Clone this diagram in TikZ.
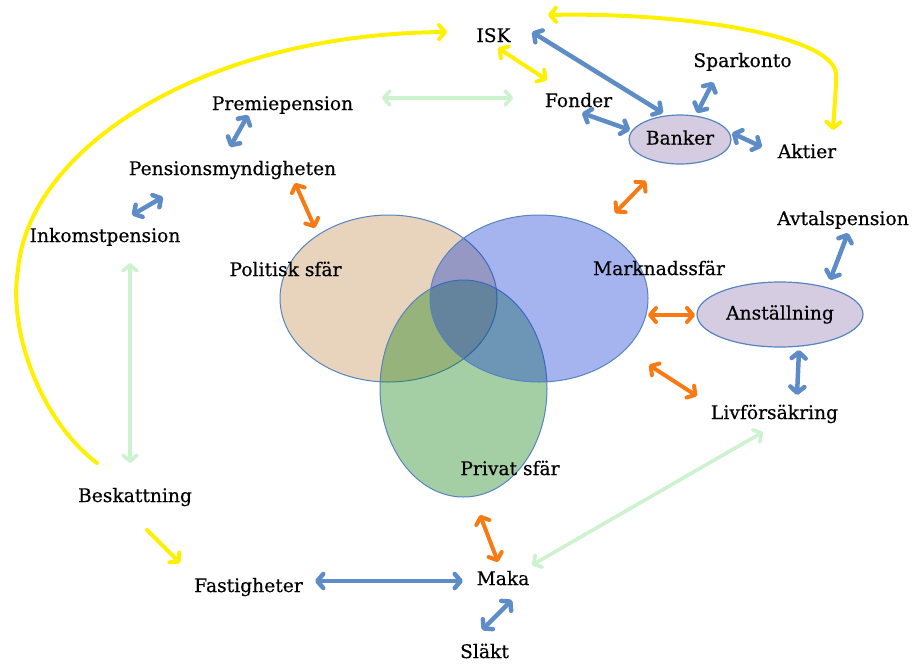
\documentclass[tikz,border=0pt]{standalone}
\usepackage{fontspec}
\setmainfont{DejaVu Serif}[FakeBold=0.4]
\usetikzlibrary{arrows.meta,shapes.geometric}
\definecolor{ablue}{RGB}{93,140,198}
\definecolor{aorange}{RGB}{247,122,20}
\definecolor{ayellow}{RGB}{255,240,0}
\definecolor{agreen}{RGB}{204,242,206}
\definecolor{estroke}{RGB}{85,132,192}
\definecolor{lav}{RGB}{214,204,226}
\definecolor{polc}{RGB}{194,139,79}
\definecolor{markc}{RGB}{18,55,210}
\definecolor{privc}{RGB}{15,129,18}
\begin{document}
\begin{tikzpicture}[x=1pt,y=-1pt,
  lbl/.style={inner sep=0pt, text height=14pt, text depth=4pt, font=\fontsize{18.7}{22}\selectfont},
  oval/.style={ellipse, draw=estroke, line width=1.2pt, fill=lav, inner sep=0pt,
    text height=14pt, text depth=4pt, font=\fontsize{18.7}{22}\selectfont},
  sphere/.style={ellipse, draw=estroke, line width=1pt, fill opacity=0.38, inner sep=0pt},
  >={Straight Barb[length=6pt,width=14pt,round]},
  bl/.style={draw=ablue, line width=4.5pt, line cap=round, <->},
  og/.style={draw=aorange, line width=4pt, line cap=round, <->},
  yl/.style={draw=ayellow, line width=4pt, line cap=round},
  gr/.style={draw=agreen, line width=3.6pt, line cap=round, <->}
]
\path[use as bounding box] (0,0) rectangle (917,665);

% spheres
\node[sphere, fill=polc, minimum width=217pt, minimum height=167pt] (pol) at (388.5,298.5) {};
\node[sphere, fill=privc, minimum width=167pt, minimum height=217pt] (priv) at (463.5,388.5) {};
\node[sphere, fill=markc, minimum width=218pt, minimum height=167pt] (mark) at (539,298.5) {};
\node[lbl] (polt) at (285.5,271) {Politisk sfär};
\node[lbl] (markt) at (659,270) {Marknadssfär};
\node[lbl] (privt) at (510,470) {Privat sfär};

% text nodes
\node[lbl] (isk) at (493.5,37) {ISK};
\node[lbl] (spark) at (742.5,62) {Sparkonto};
\node[lbl] (fonder) at (578.5,102) {Fonder};
\node[oval, minimum width=102pt, minimum height=49pt] (banker) at (680,139.5) {Banker};
\node[lbl] (aktier) at (807,153) {Aktier};
\node[lbl] (premie) at (282.5,105) {Premiepension};
\node[lbl] (pension) at (232.5,170) {Pensionsmyndigheten};
\node[lbl] (inkomst) at (105,237) {Inkomstpension};
\node[lbl] (avtal) at (843,220) {Avtalspension};
\node[oval, minimum width=166pt, minimum height=65pt] (anst) at (780,314.5) {Anställning};
\node[lbl] (livf) at (774.5,414) {Livförsäkring};
\node[lbl] (beskatt) at (135,497) {Beskattning};
\node[lbl] (fastig) at (248.5,587) {Fastigheter};
\node[lbl] (maka) at (503,580) {Maka};
\node[lbl] (slakt) at (484.5,653) {Släkt};

% yellow connectors
\draw[yl, ->] ([shift={(-38,-34)}]beskatt.center) .. controls (40,420) and (8,330) .. (18,270)
  .. controls (28,150) and (200,34) .. ([shift={(-46.5,-5)}]isk.center);
\draw[yl, <->] ([shift={(54.5,-22)}]isk.center) .. controls (680,12) and (836,35) .. (836,75)
  .. controls (836,95) and (834,110) .. ([shift={(26,-23)}]aktier.center);
\draw[yl, <->] ([shift={(4.5,11)}]isk.center) -- ([shift={(-31.5,-22)}]fonder.center);
\draw[yl, ->] ([shift={(12,33)}]beskatt.center) -- ([shift={(-68.5,-24)}]fastig.center);

% blue connectors
\draw[bl] ([shift={(38.5,-5)}]isk.center) -- ([shift={(-17,-26.5)}]banker.center);
\draw[bl] ([shift={(-29.5,20)}]spark.center) -- ([shift={(17,-26.5)}]banker.center);
\draw[bl] ([shift={(3.5,11)}]fonder.center) -- ([shift={(-50,-9.5)}]banker.center);
\draw[bl] ([shift={(52,-6.5)}]banker.center) -- ([shift={(-45,-6)}]aktier.center);
\draw[bl] ([shift={(-34.5,10)}]premie.center) -- ([shift={(-2.5,-23)}]pension.center);
\draw[bl] ([shift={(-69.5,27)}]pension.center) -- ([shift={(27,-22)}]inkomst.center);
\draw[bl] ([shift={(5,13)}]avtal.center) -- ([shift={(50,-34.5)}]anst.center);
\draw[bl] ([shift={(19,35.5)}]anst.center) -- ([shift={(22.5,-19)}]livf.center);
\draw[bl] ([shift={(66.5,-6)}]fastig.center) -- ([shift={(-40,1)}]maka.center);
\draw[bl] ([shift={(9,20)}]maka.center) -- ([shift={(-2.5,-23)}]slakt.center);

% orange connectors
\draw[og] ([shift={(62.5,13)}]pension.center) -- ([shift={(-73.5,-70.5)}]pol.center);
\draw[og] ([shift={(-34,41.5)}]banker.center) -- ([shift={(76,-85.5)}]mark.center);
\draw[og] ([shift={(109,16.5)}]mark.center) -- ([shift={(-85,0.5)}]anst.center);
\draw[og] ([shift={(110,66.5)}]mark.center) -- ([shift={(-77.5,-18)}]livf.center);
\draw[og] ([shift={(16.5,126.5)}]priv.center) -- ([shift={(-5,-18)}]maka.center);

% green connectors
\draw[gr] ([shift={(99.5,-7)}]premie.center) -- ([shift={(-65.5,-4)}]fonder.center);
\draw[gr] ([shift={(25,26)}]inkomst.center) -- ([shift={(-5,-34)}]beskatt.center);
\draw[gr] ([shift={(29,-15)}]maka.center) -- ([shift={(-11.5,18)}]livf.center);
\end{tikzpicture}
\end{document}
